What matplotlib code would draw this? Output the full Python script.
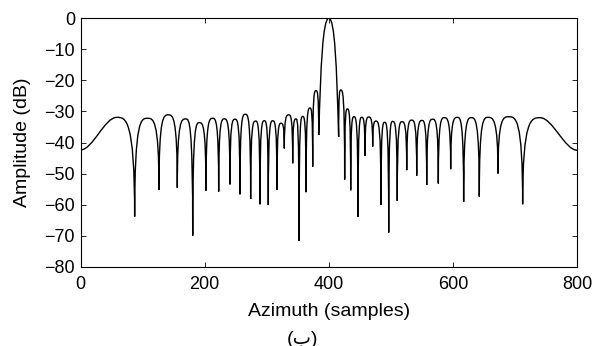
import matplotlib
matplotlib.use('Agg')
import matplotlib.pyplot as plt
from matplotlib.path import Path
from matplotlib.patches import PathPatch

plt.rcParams['font.family'] = ['Liberation Sans', 'DejaVu Sans']

# values
start_x, start_db = 0, -42.4
end_x, end_db = 800, -42.5

# lobe peaks (first broad lobe, left sidelobes, main lobe, right sidelobes, last broad lobe)
peak_x = [58.3,
          108, 141.4, 169.4, 191.4, 212.8, 231.6, 248.8, 265.4, 282, 296,
          309.5, 322.9, 335.3, 347, 357.8, 369.6, 379.2,
          400,
          419, 429.7, 440.4, 452.8, 464.1, 475.8, 489.8, 502.7, 517.7, 533.3,
          549.9, 567.1, 585.8, 606.8, 629.3, 656.2, 689.5,
          740]
peak_db = [-31.9,
           -32.2, -31.1, -32.4, -33.6, -32.2, -32.4, -32.5, -30.9, -33.1, -33.0,
           -33.0, -33.8, -31.1, -32.4, -31.6, -28.9, -23.3,
           0,
           -23.1, -29.2, -31.7, -31.9, -31.8, -33.1, -33.5, -33.2, -33.3, -32.8,
           -32.9, -32.5, -32.0, -31.9, -32.0, -31.9, -31.7,
           -32.0]

# nulls between the lobes
null_x = [87.2, 126.4, 155.9, 180.7, 202, 222.5, 240.7, 256.8, 274, 289,
          302.4, 316.4, 328.2, 341.7, 351.9, 363.2, 373.9, 383.6,
          415.7, 425.4, 435.1, 446.9, 458.1, 470.5, 483.9, 496.3, 510.1, 525.3,
          541.4, 557.5, 576.2, 596.1, 617, 642.2, 672.3, 712]
null_db = [-63.9, -55.3, -54.6, -70.0, -55.5, -55.8, -53.5, -56.7, -58.2, -59.9,
           -60.1, -55.3, -41.9, -46.7, -71.7, -56.0, -47.8, -37.6,
           -38.2, -51.9, -55.4, -63.9, -44.3, -41.3, -60.1, -69.0, -58.8, -48.9,
           -50.7, -53.7, -53.2, -48.6, -59.1, -57.4, -50.0, -59.9]

main = peak_db.index(max(peak_db))


def lobe_side(xn, yn, xp, yp, is_main):
    # bezier controls going from a null up to a peak
    w = xp - xn
    if is_main:
        return [(xn + 0.2 * w, yn + 0.6 * (yp - yn)), (xn + 0.4 * w, yp)]
    return [(xn, yp), (xn + 0.5 * w, yp)]


verts = [(start_x, start_db)]
codes = [Path.MOVETO]

d = peak_x[0] - start_x
verts += [(start_x + d / 3, start_db), (peak_x[0] - d / 3, peak_db[0]), (peak_x[0], peak_db[0])]
codes += [Path.CURVE4] * 3

for i in range(len(null_x)):
    xp, yp = peak_x[i], peak_db[i]
    xn, yn = null_x[i], null_db[i]
    # down from peak i to null i
    c1, c2 = lobe_side(xn, yn, xp, yp, i == main)
    verts += [c2, c1, (xn, yn)]
    codes += [Path.CURVE4] * 3
    # up from null i to peak i+1
    xp2, yp2 = peak_x[i + 1], peak_db[i + 1]
    c1, c2 = lobe_side(xn, yn, xp2, yp2, i + 1 == main)
    verts += [c1, c2, (xp2, yp2)]
    codes += [Path.CURVE4] * 3

d = end_x - peak_x[-1]
verts += [(peak_x[-1] + d / 3, peak_db[-1]), (end_x - d / 3, end_db), (end_x, end_db)]
codes += [Path.CURVE4] * 3

fig = plt.figure(figsize=(5.95, 3.46), dpi=100)
ax = fig.add_axes([80.5 / 595, 1 - 266.7 / 346, 496.8 / 595, 248.4 / 346])

ax.add_patch(PathPatch(Path(verts, codes), facecolor='none', edgecolor='black', lw=1.0))

ax.set_xlim(0, 800)
ax.set_ylim(-80, 0)
ax.set_xticks([0, 200, 400, 600, 800])
ax.set_yticks(range(-80, 1, 10))
ax.tick_params(direction='in', length=3.6, width=0.6, top=True, right=True,
               labelsize=13)
ax.tick_params(axis='x', pad=7)
ax.tick_params(axis='y', pad=4)
for s in ax.spines.values():
    s.set_linewidth(0.8)

ax.set_xlabel('Azimuth (samples)', fontsize=14, va='center')
ax.xaxis.set_label_coords(0.5, -0.18)
ax.set_ylabel('Amplitude (dB)', fontsize=14, va='center')
ax.yaxis.set_label_coords(-0.116, 0.5)

fig.text(303 / 595, 1 - 339 / 346, '(ب)', fontsize=14, ha='center', va='center',
         family=['Liberation Sans', 'DejaVu Sans'])

fig.savefig('out.png', dpi=100)
